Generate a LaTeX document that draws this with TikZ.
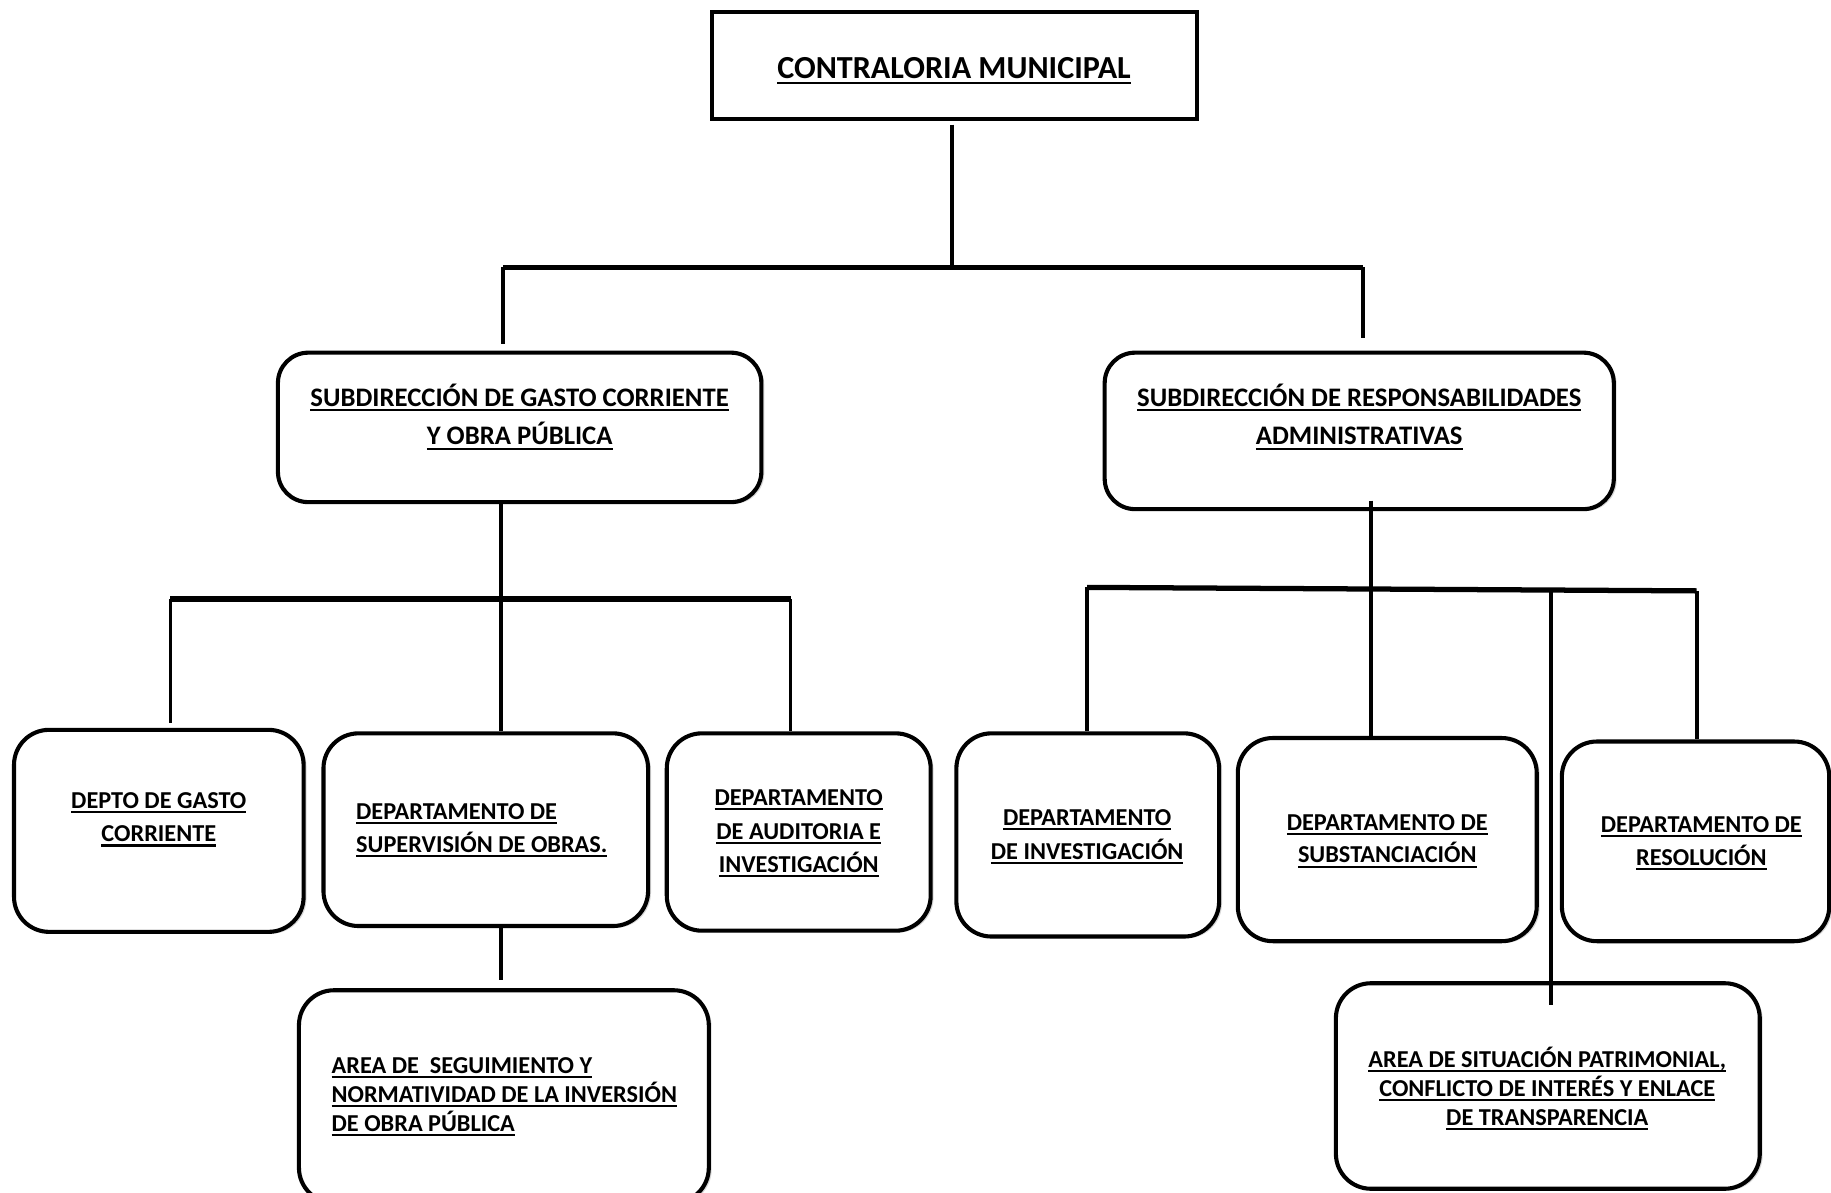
\documentclass[tikz,border=0pt]{standalone}
\usepackage{fontspec}
\setmainfont{Carlito}
\usetikzlibrary{shadows}
\newcommand\myul[1]{\setbox0\hbox{#1}\rlap{\rule[-0.19em]{\wd0}{0.085em}}\box0}
\newcommand\ctrtxt[1]{\hbox to 0pt{\hss\myul{#1}\hss}}
\newcommand\lefttxt[1]{\hbox to 0pt{\myul{#1}\hss}}
\newcommand\linestack[2]{\vtop{\baselineskip=#1\lineskiplimit=-100pt\lineskip=0pt #2}}
\begin{document}
\begin{tikzpicture}[x=1pt,y=-1pt,
  boxr/.style={draw, line width=3.5pt, rounded corners=26pt, fill=white, inner sep=0pt,
    drop shadow={shadow xshift=2.5pt, shadow yshift=-1.5pt, opacity=0.3}},
  conn/.style={line width=3.2pt},
  bar/.style={line width=4.5pt},
  txt/.style={inner sep=0pt, anchor=base},
  ttl/.style={txt, font=\bfseries\fontsize{27.5}{30}\selectfont},
  subt/.style={txt, font=\bfseries\fontsize{22.9}{33}\selectfont},
  dept/.style={txt, font=\bfseries\fontsize{20.8}{29}\selectfont}]
\fill[white] (0,0) rectangle (1568,1021);
\useasboundingbox (0,0) rectangle (1568,1021);

% boxes
\node[draw, line width=3.6pt, fill=white, minimum width=415pt, minimum height=92pt, inner sep=0pt] (top) at (817.5,56) {};
\node[boxr, minimum width=414pt, minimum height=128pt] (subL) at (445,366) {};
\node[boxr, minimum width=436pt, minimum height=134pt] (subR) at (1164,369) {};
\node[boxr, rounded corners=30pt, minimum width=248pt, minimum height=173pt] (dA) at (136,711.5) {};
\node[boxr, rounded corners=30pt, minimum width=278pt, minimum height=165pt] (dB) at (416,710.5) {};
\node[boxr, rounded corners=30pt, minimum width=226pt, minimum height=169pt] (dC) at (684,712.5) {};
\node[boxr, rounded corners=30pt, minimum width=351pt, minimum height=182pt] (dD) at (431.5,939) {};
\node[boxr, rounded corners=30pt, minimum width=225pt, minimum height=174pt] (dE) at (931.5,715) {};
\node[boxr, rounded corners=30pt, minimum width=256pt, minimum height=174pt] (dF) at (1188,719) {};
\node[boxr, rounded corners=30pt, minimum width=229pt, minimum height=171pt] (dG) at (1452,720.5) {};
\node[boxr, rounded corners=30pt, minimum width=363pt, minimum height=176pt] (dH) at (1325.5,930) {};

% connectors, top level
\coordinate (j0) at (815,229);
\coordinate (hL) at (431,229);
\coordinate (hR) at (1167,229);
\draw[conn, shorten <=3pt] (top.south -| j0) -- (j0);
\draw[bar] (hL) -- (hR);
\draw[conn, shorten >=6pt] (hL) -- (hL |- subL.north);
\draw[conn, shorten >=11pt] (hR) -- (hR |- subR.north);

% left branch
\coordinate (l0) at (429,513);
\coordinate (l1) at (146,513);
\coordinate (l3) at (677,513);
\draw[conn] (subL.south -| l0) -- (l0);
\draw[bar] (l1) -- (l3);
\draw[conn, shorten >=4pt] (l1) -- (l1 |- dA.north);
\draw[conn] (l0) -- (l0 |- dB.north);
\draw[conn] (l3) -- (l3 |- dC.north);
\draw[conn, shorten >=7pt] (dB.south -| l0) -- (l0 |- dD.north);

% right branch
\coordinate (r0) at (1174,504.5);
\coordinate (r1) at (931,503);
\coordinate (r3) at (1328,505.5);
\coordinate (r4) at (1453,506);
\draw[conn, shorten <=-9pt] (subR.south -| r0) -- (r0);
\draw[bar] (r1) -- (r4);
\draw[conn] (r1) -- (r1 |- dE.north);
\draw[conn] (r0) -- (r0 |- dF.north);
\draw[conn, shorten >=-20pt] (r3) -- (r3 |- dH.north);
\draw[conn] (r4) -- (r4 |- dG.north);

% texts
\node[ttl] (tTop) at (817,67) {\linestack{30pt}{\ctrtxt{CONTRALORIA MUNICIPAL}}};
\node[subt] (tSubL) at (445,348) {\linestack{33pt}{\ctrtxt{SUBDIRECCIÓN DE GASTO CORRIENTE}\ctrtxt{Y OBRA PÚBLICA}}};
\node[subt] (tSubR) at (1164,348) {\linestack{33pt}{\ctrtxt{SUBDIRECCIÓN DE RESPONSABILIDADES}\ctrtxt{ADMINISTRATIVAS}}};
\node[dept] (tA) at (136,692) {\linestack{29pt}{\ctrtxt{DEPTO DE GASTO}\ctrtxt{CORRIENTE}}};
\node[dept] (tB) at (305,702) {\linestack{28pt}{\lefttxt{DEPARTAMENTO DE}\lefttxt{SUPERVISIÓN DE OBRAS.}}};
\node[dept] (tC) at (684,690) {\linestack{28.5pt}{\ctrtxt{DEPARTAMENTO}\ctrtxt{DE AUDITORIA E}\ctrtxt{INVESTIGACIÓN}}};
\node[dept] (tD) at (284,919) {\linestack{25pt}{\lefttxt{AREA DE\ \ SEGUIMIENTO Y}\lefttxt{NORMATIVIDAD DE LA INVERSIÓN}\lefttxt{DE OBRA PÚBLICA}}};
\node[dept] (tE) at (931,707) {\linestack{29pt}{\ctrtxt{DEPARTAMENTO}\ctrtxt{DE INVESTIGACIÓN}}};
\node[dept] (tF) at (1188,711) {\linestack{28pt}{\ctrtxt{DEPARTAMENTO DE}\ctrtxt{SUBSTANCIACIÓN}}};
\node[dept] (tG) at (1457,713) {\linestack{28pt}{\ctrtxt{DEPARTAMENTO DE}\ctrtxt{RESOLUCIÓN}}};
\node[dept] (tH) at (1325,914) {\linestack{25pt}{\ctrtxt{AREA DE SITUACIÓN PATRIMONIAL,}\ctrtxt{CONFLICTO DE INTERÉS Y ENLACE}\ctrtxt{DE TRANSPARENCIA}}};
\end{tikzpicture}
\end{document}
